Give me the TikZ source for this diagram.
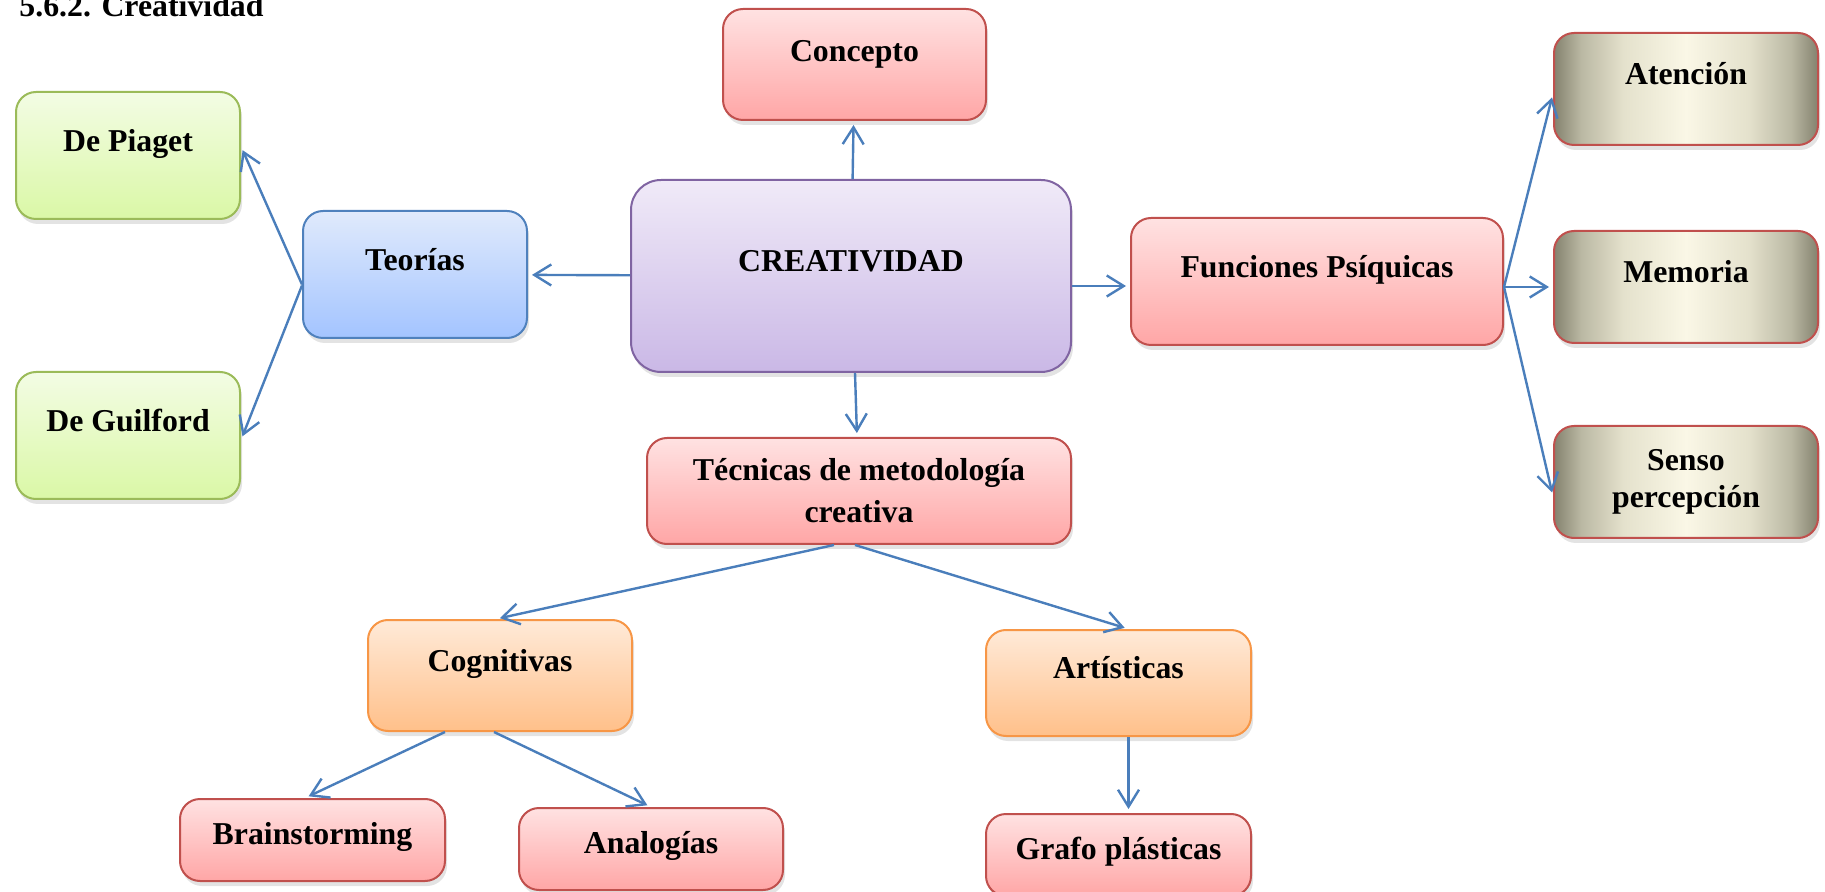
\documentclass[tikz,border=0pt]{standalone}
\usepackage{fontspec}
\setmainfont{Liberation Serif}
\usetikzlibrary{arrows.meta, positioning, shadows}
\definecolor{linkblue}{RGB}{74,126,187}
\definecolor{redborder}{RGB}{192,80,77}
\definecolor{redtop}{RGB}{255,226,226}
\definecolor{redbot}{RGB}{255,166,166}
\definecolor{greenborder}{RGB}{155,187,89}
\definecolor{greentop}{RGB}{243,252,228}
\definecolor{greenbot}{RGB}{218,248,166}
\definecolor{blueborder}{RGB}{79,129,189}
\definecolor{bluetop}{RGB}{224,234,252}
\definecolor{bluebot}{RGB}{163,196,255}
\definecolor{purpleborder}{RGB}{128,100,162}
\definecolor{purpletop}{RGB}{240,234,248}
\definecolor{purplebot}{RGB}{202,184,230}
\definecolor{orangeborder}{RGB}{247,150,70}
\definecolor{orangetop}{RGB}{255,234,216}
\definecolor{orangebot}{RGB}{255,192,138}
\definecolor{metaledge}{RGB}{132,130,110}
\definecolor{metalside}{RGB}{185,183,162}
\definecolor{metalsoft}{RGB}{228,225,204}
\definecolor{metalmid}{RGB}{250,247,230}
\pgfdeclarehorizontalshading{metalshade}{100bp}{color(0bp)=(metaledge);
  color(25bp)=(metaledge); color(30bp)=(metalside); color(38bp)=(metalsoft);
  color(50bp)=(metalmid); color(62bp)=(metalsoft); color(70bp)=(metalside);
  color(75bp)=(metaledge); color(100bp)=(metaledge)}
\tikzset{
  box/.style={rectangle, rounded corners=10pt, line width=1pt, align=center,
    font=\fontsize{15.9}{21}\selectfont\bfseries,
    drop shadow={shadow xshift=1pt, shadow yshift=-2.5pt, opacity=0.22}},
  lifted/.style={text height=11pt, text depth=#1},
  lifted/.default=15pt,
  redbox/.style={box, draw=redborder, top color=redtop, bottom color=redbot},
  greenbox/.style={box, draw=greenborder, top color=greentop, bottom color=greenbot,
    minimum width=112pt, minimum height=63.5pt},
  bluebox/.style={box, draw=blueborder, top color=bluetop, bottom color=bluebot},
  purplebox/.style={box, draw=purpleborder, top color=purpletop, bottom color=purplebot},
  orangebox/.style={box, draw=orangeborder, top color=orangetop, bottom color=orangebot},
  metalbox/.style={box, draw=redborder, shading=metalshade,
    minimum width=132pt, minimum height=56pt},
  link/.style={-{Straight Barb[length=8.5pt, width=10.5pt]}, line width=1.2pt,
    color=linkblue, shorten >=2pt},
}

\begin{document}
\begin{tikzpicture}[x=0.5pt, y=-0.5pt]
  \useasboundingbox (0,0) rectangle (1825,892);
  \node[anchor=base west, inner sep=0pt, font=\fontsize{15.9}{21}\selectfont\bfseries]
    (title) at (19,17) {5.6.2. Creatividad};
  % centre
  \node[purplebox, rounded corners=15pt, minimum width=220pt, minimum height=96pt,
        lifted] (crea) at (851,276) {CREATIVIDAD};
  \node[redbox, minimum width=131.5pt, minimum height=55.5pt, lifted=13.5pt]
    (concepto) at (854.5,64.5) {Concepto};
  % left branch
  \node[bluebox, minimum width=112pt, minimum height=63.5pt, lifted]
    (teorias) at (415,274.5) {Teorías};
  \node[greenbox, lifted] (piaget) at (128,155.5) {De Piaget};
  \node[greenbox, lifted] (guilford) at (128,435.5) {De Guilford};
  % right branch
  \node[redbox, minimum width=186pt, minimum height=63.5pt, lifted]
    (funciones) at (1317,281.5) {Funciones Psíquicas};
  \node[metalbox, lifted] (memoria) at (1686,287) {Memoria};
  \node[metalbox, lifted, above=42pt of memoria] (atencion) {Atención};
  \node[metalbox, below=40.5pt of memoria,
        font=\fontsize{15.9}{18.5}\selectfont\bfseries] (senso) {Senso\\percepción};
  % lower branch
  \node[redbox, minimum width=212pt, minimum height=53pt]
    (tecnicas) at (859,491) {Técnicas de metodología\\creativa};
  \node[orangebox, minimum width=132pt, minimum height=55.5pt, lifted]
    (cognitivas) at (500,675.5) {Cognitivas};
  \node[orangebox, minimum width=132.5pt, minimum height=53pt, lifted=16pt]
    (artisticas) at (1118.5,683) {Artísticas};
  \node[redbox, minimum width=132.5pt, minimum height=41pt, lifted=7pt]
    (brainstorming) at (312.5,840) {Brainstorming};
  \node[redbox, minimum width=132pt, minimum height=41pt, lifted=7pt]
    (analogias) at (651,849) {Analogías};
  \node[redbox, minimum width=132.5pt, minimum height=41pt, lifted=7pt,
        below=38pt of artisticas] (grafo) {Grafo plásticas};

  \draw[link] (crea) -- (concepto);
  \draw[link] (crea) -- (teorias);
  \draw[link] ([yshift=-5pt]crea.east) -- ([yshift=-2.25pt]funciones.west);
  \draw[link] ([xshift=2pt]crea.south) -- ([xshift=-1pt]tecnicas.north);
  \draw[link] ([yshift=-5pt]teorias.west) -- ([yshift=4.5pt]piaget.east);
  \draw[link] ([yshift=-5.5pt]teorias.west) -- ([yshift=-2.25pt]guilford.east);
  \draw[link] ([yshift=-2.75pt]funciones.east) -- ([yshift=-2.25pt]atencion.west);
  \draw[link] ([yshift=-2.75pt]funciones.east) -- (memoria.west);
  \draw[link] ([yshift=-2.75pt]funciones.east) -- ([yshift=-7.25pt]senso.west);
  \draw[link] ([xshift=-12.5pt]tecnicas.south) -- ([xshift=-2pt]cognitivas.north);
  \draw[link] ([xshift=-2pt]tecnicas.south) -- ([xshift=5pt]artisticas.north);
  \draw[link] ([xshift=-27.5pt]cognitivas.south) -- ([xshift=-3.75pt]brainstorming.north);
  \draw[link] ([xshift=-3pt]cognitivas.south) -- (analogias.north);
  \draw[link] ([xshift=5pt]artisticas.south) -- ([xshift=5pt]grafo.north);
\end{tikzpicture}
\end{document}
